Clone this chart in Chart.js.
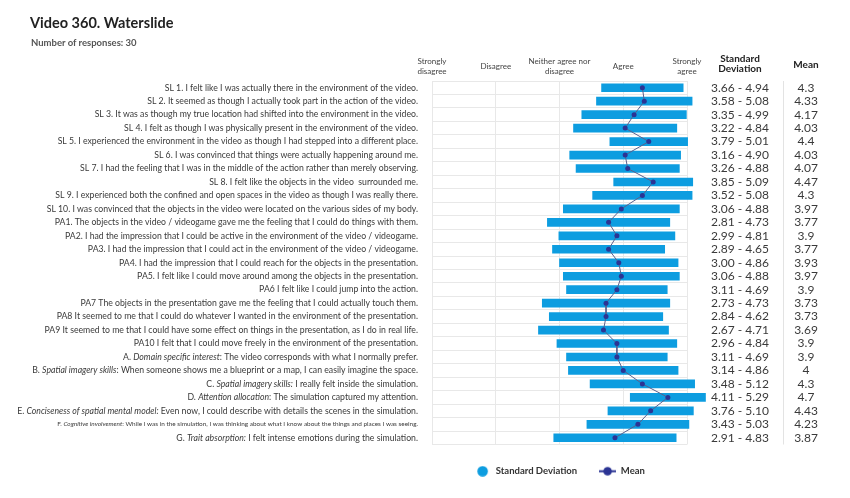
<!DOCTYPE html>
<html>
<head>
<meta charset="utf-8">
<script src="https://cdn.jsdelivr.net/npm/chart.js@4.4.1/dist/chart.umd.min.js"></script>
<style>
  html, body { margin: 0; padding: 0; background: #fff; }
  #wrap { position: relative; width: 850px; height: 498px; }
  #chart { position: absolute; left: 0; top: 0; }
  #title { position: absolute; left: 30px; top: 14px; font: bold 14.5px Lato, sans-serif; color: #222; }
  #sub { position: absolute; left: 31px; top: 37px; font: bold 9.5px Lato, sans-serif; color: #555; }
</style>
</head>
<body>
<div id="wrap">
  <canvas id="chart" width="850" height="498"></canvas>
  <div id="title">Video 360. Waterslide</div>
  <div id="sub">Number of responses: 30</div>
</div>
<script>
// text between * * is drawn in italics
const categories = [
    'SL 1. I felt like I was actually there in the environment of the video.',
    'SL 2. It seemed as though I actually took part in the action of the video.',
    'SL 3. It was as though my true location had shifted into the environment in the video.',
    'SL 4. I felt as though I was physically present in the environment of the video.',
    'SL 5. I experienced the environment in the video as though I had stepped into a different place.',
    'SL 6. I was convinced that things were actually happening around me.',
    'SL 7. I had the feeling that I was in the middle of the action rather than merely observing.',
    'SL 8. I felt like the objects in the video  surrounded me.',
    'SL 9. I experienced both the confined and open spaces in the video as though I was really there.',
    'SL 10. I was convinced that the objects in the video were located on the various sides of my body.',
    'PA1. The objects in the video / videogame gave me the feeling that I could do things with them.',
    'PA2. I had the impression that I could be active in the environment of the video / videogame.',
    'PA3. I had the impression that I could act in the environment of the video / videogame.',
    'PA4. I had the impression that I could reach for the objects in the presentation.',
    'PA5. I felt like I could move around among the objects in the presentation.',
    'PA6 I felt like I could jump into the action.',
    'PA7 The objects in the presentation gave me the feeling that I could actually touch them.',
    'PA8 It seemed to me that I could do whatever I wanted in the environment of the presentation.',
    'PA9 It seemed to me that I could have some effect on things in the presentation, as I do in real life.',
    'PA10 I felt that I could move freely in the environment of the presentation.',
    'A. *Domain specific interest*: The video corresponds with what I normally prefer.',
    'B. *Spatial imagery skills*: When someone shows me a blueprint or a map, I can easily imagine the space.',
    'C. *Spatial imagery skills:* I really felt inside the simulation.',
    'D. *Attention allocation*: The simulation captured my attention.',
    'E. *Conciseness of spatial mental model:* Even now, I could describe with details the scenes in the simulation.',
    'F. *Cognitive involvement*: While I was in the simulation, I was thinking about what I know about the things and places I was seeing.',
    'G. *Trait absorption:* I felt intense emotions during the simulation.'
];

const sdLow = [3.66, 3.58, 3.35, 3.22, 3.79, 3.16, 3.26, 3.85, 3.52, 3.06,
    2.81, 2.99, 2.89, 3.00, 3.06, 3.11, 2.73, 2.84, 2.67, 2.96,
    3.11, 3.14, 3.48, 4.11, 3.76, 3.43, 2.91];
const sdHigh = [4.94, 5.08, 4.99, 4.84, 5.01, 4.90, 4.88, 5.09, 5.08, 4.88,
    4.73, 4.81, 4.65, 4.86, 4.88, 4.69, 4.73, 4.62, 4.71, 4.84,
    4.69, 4.86, 5.12, 5.29, 5.10, 5.03, 4.83];
const means = [4.3, 4.33, 4.17, 4.03, 4.4, 4.03, 4.07, 4.47, 4.3, 3.97,
    3.77, 3.9, 3.77, 3.93, 3.97, 3.9, 3.73, 3.73, 3.69, 3.9,
    3.9, 4, 4.3, 4.7, 4.43, 4.23, 3.87];

const scaleLabels = {
    1: ['Strongly', 'disagree'],
    2: 'Disagree',
    3: ['Neither agree nor', 'disagree'],
    4: 'Agree',
    5: ['Strongly', 'agree']
};

const FONT = 'Lato, sans-serif';
const TEXT = '#3a3a3a';
const BLUE = '#0d9de0';
const NAVY = '#2b3494';

const drawRichLabel = (ctx, label, rightX, y) => {
    const parts = label.split('*');
    let size = 8.7;
    const measure = (s) => parts.reduce((w, p, i) => {
        ctx.font = `${i % 2 ? 'italic ' : ''}${s}px ${FONT}`;
        return w + ctx.measureText(p).width;
    }, 0);
    let total = measure(size);
    if (total > rightX) {
        size = size * 361 / total;
        total = measure(size);
    }
    let x = rightX - total;
    parts.forEach((p, i) => {
        ctx.font = `${i % 2 ? 'italic ' : ''}${size}px ${FONT}`;
        ctx.fillText(p, x, y);
        x += ctx.measureText(p).width;
    });
};

const sideText = {
    id: 'sideText',
    afterDraw(chart) {
        const { ctx, chartArea, scales: { y } } = chart;
        const sdX = chartArea.right + 53;
        const sepX = chartArea.right + 96;
        const meanX = chartArea.right + 119;
        ctx.save();
        ctx.fillStyle = TEXT;
        ctx.textBaseline = 'middle';
        ctx.textAlign = 'left';
        categories.forEach((label, i) => {
            drawRichLabel(ctx, label, chartArea.left - 14, y.getPixelForValue(i));
        });

        ctx.textAlign = 'center';
        ctx.font = `12px ${FONT}`;
        categories.forEach((_label, i) => {
            const py = y.getPixelForValue(i);
            ctx.fillText(`${sdLow[i].toFixed(2)} - ${sdHigh[i].toFixed(2)}`, sdX, py);
            ctx.fillText(String(means[i]), meanX, py);
        });

        ctx.fillStyle = '#222';
        ctx.font = `bold 10px ${FONT}`;
        ctx.fillText('Standard', sdX, chartArea.top - 22);
        ctx.fillText('Deviation', sdX, chartArea.top - 12);
        ctx.fillText('Mean', meanX, chartArea.top - 16);

        ctx.strokeStyle = '#e3e3e3';
        ctx.lineWidth = 1;
        ctx.beginPath();
        ctx.moveTo(sepX + 0.5, chartArea.top);
        ctx.lineTo(sepX + 0.5, chartArea.bottom);
        ctx.stroke();
        ctx.restore();
    }
};

const legendIcon = (withLine, color, radius) => {
    const c = document.createElement('canvas');
    c.width = 17;
    c.height = 11;
    const g = c.getContext('2d');
    if (withLine) {
        g.strokeStyle = color;
        g.lineWidth = 2;
        g.beginPath();
        g.moveTo(0, 5.5);
        g.lineTo(17, 5.5);
        g.stroke();
    }
    g.fillStyle = color;
    g.beginPath();
    g.arc(8.5, 5.5, radius, 0, Math.PI * 2);
    g.fill();
    return c;
};
const sdIcon = legendIcon(false, BLUE, 5.3);
const meanIcon = legendIcon(true, NAVY, 4.3);

new Chart(document.getElementById('chart'), {
    type: 'bar',
    data: {
        labels: categories,
        datasets: [
            {
                label: 'Standard Deviation',
                data: sdLow.map((lo, i) => [lo, sdHigh[i]]),
                backgroundColor: BLUE,
                barThickness: 8,
                clip: false,
                order: 2
            },
            {
                type: 'line',
                label: 'Mean',
                data: means,
                indexAxis: 'y',
                borderColor: '#5b5f8c',
                borderWidth: 1,
                pointRadius: 2.5,
                pointBackgroundColor: NAVY,
                pointBorderWidth: 0,
                tension: 0,
                clip: false,
                order: 1
            }
        ]
    },
    options: {
        indexAxis: 'y',
        responsive: false,
        animation: false,
        layout: { padding: { top: 0, right: 163, bottom: 12, left: 0 } },
        scales: {
            x: {
                position: 'top',
                min: 1,
                max: 5,
                afterFit: (s) => { s.height = 81; },
                border: { display: false },
                grid: { color: '#e8e8e8', drawTicks: false },
                ticks: {
                    stepSize: 1,
                    padding: 10,
                    autoSkip: false,
                    maxRotation: 0,
                    minRotation: 0,
                    crossAlign: 'center',
                    color: '#444',
                    font: { family: FONT, size: 8 },
                    callback: (value) => scaleLabels[value] || ''
                }
            },
            y: {
                afterFit: (s) => { s.width = 432; },
                border: { display: false },
                grid: { color: '#e8e8e8', offset: true, drawTicks: false },
                ticks: { display: false }
            }
        },
        plugins: {
            legend: {
                position: 'bottom',
                fullSize: false,
                labels: {
                    usePointStyle: true,
                    pointStyleWidth: 17,
                    padding: 22,
                    color: '#333',
                    font: { family: FONT, size: 9.5, weight: 'bold' },
                    generateLabels: (chart) => {
                        const items = Chart.defaults.plugins.legend.labels.generateLabels(chart);
                        items.forEach((item) => {
                            item.pointStyle = item.datasetIndex === 1 ? meanIcon : sdIcon;
                            item.lineWidth = 0;
                        });
                        return items.sort((a, b) => a.datasetIndex - b.datasetIndex);
                    }
                }
            },
            tooltip: { enabled: false }
        }
    },
    plugins: [sideText]
});
</script>
</body>
</html>
